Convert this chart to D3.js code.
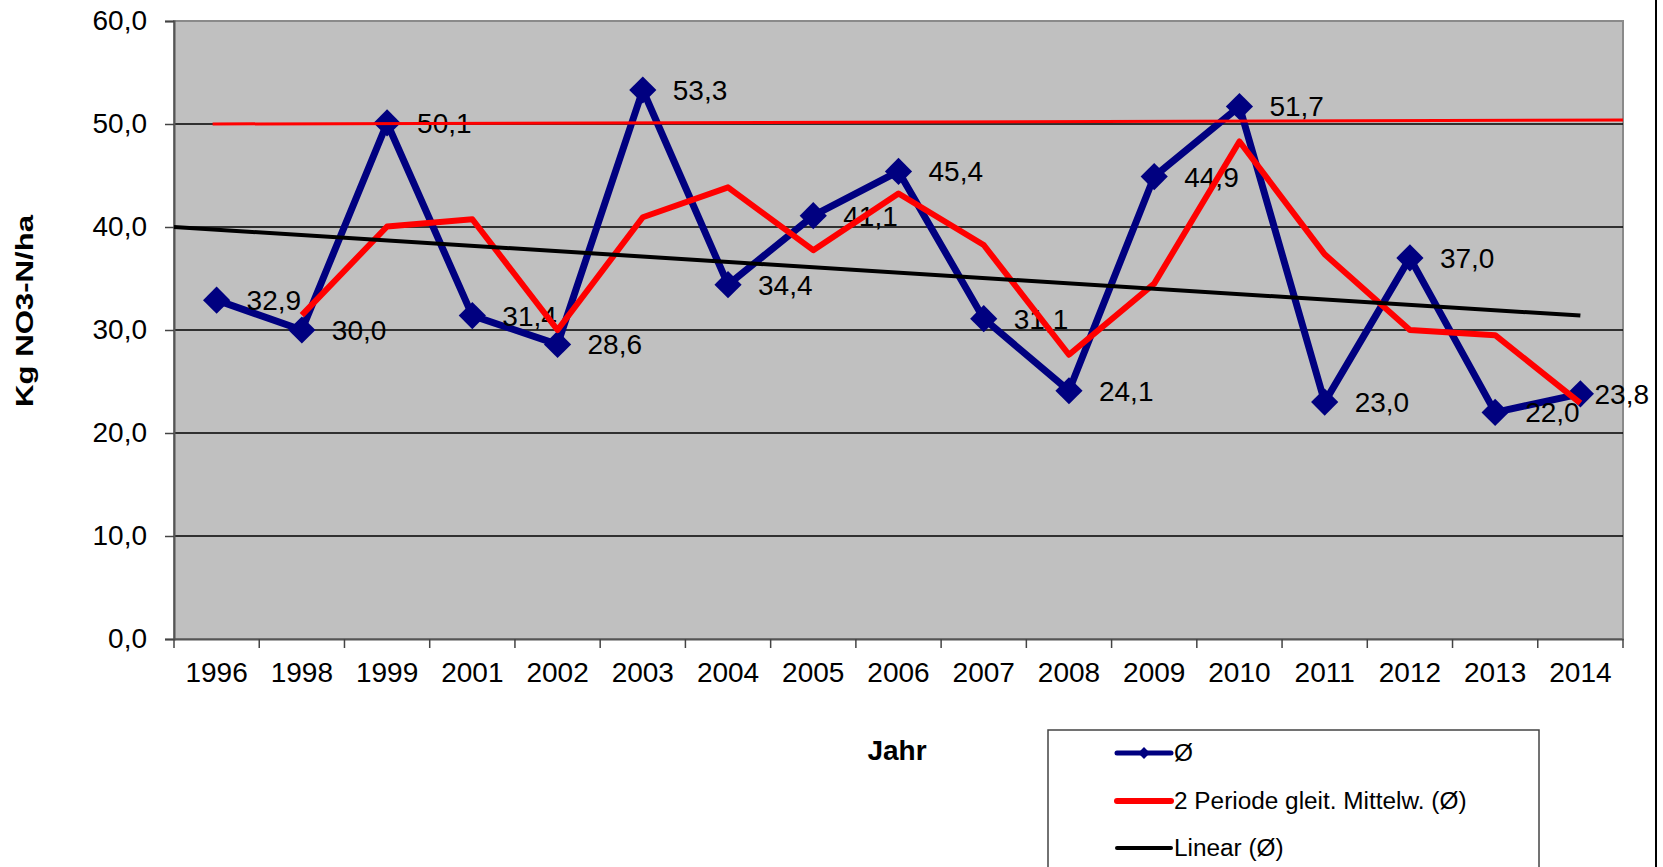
<!DOCTYPE html>
<html>
<head>
<meta charset="utf-8">
<script src="https://cdn.jsdelivr.net/npm/d3@7/dist/d3.min.js"></script>
<style>
  html, body { margin: 0; padding: 0; background: #fff; }
  svg { display: block; font-family: "Liberation Sans", Arial, sans-serif; }
</style>
</head>
<body>
<svg id="chart" width="1663" height="867"></svg>
<script>
// ---- data ----
const years = ["1996","1998","1999","2001","2002","2003","2004","2005","2006","2007","2008","2009","2010","2011","2012","2013","2014"];
const avgValues = [32.9,30.0,50.1,31.4,28.6,53.3,34.4,41.1,45.4,31.1,24.1,44.9,51.7,23.0,37.0,22.0,23.8];
const movingAvg = [null,31.45,40.05,40.75,30.0,40.95,43.85,37.75,43.25,38.25,27.6,34.5,48.3,37.35,30.0,29.5,22.9];
const trendValues = [40.0, 31.4];   // linear trend: plot left edge -> last year
const limitValues = [50.0, 50.4];   // red reference line: first year -> plot right edge
const yTicks = [0,10,20,30,40,50,60];
const legendLabels = ["Ø", "2 Periode gleit. Mittelw. (Ø)", "Linear (Ø)"];
const yTitle = "Kg NO3-N/ha";
const xTitle = "Jahr";

// ---- layout ----
const L = 174, R = 1623, T = 21, B = 639;
const svg = d3.select("#chart");
const fmt = v => v.toFixed(1).replace(".", ",");

const x = d3.scaleBand().domain(years).range([L, R]).paddingInner(0).paddingOuter(0);
const y = d3.scaleLinear().domain([0, 60]).range([B, T]);
const cx = d => x(d) + x.bandwidth() / 2;

// plot background
svg.append("rect").attr("x", L).attr("y", T).attr("width", R - L).attr("height", B - T)
  .attr("fill", "#c0c0c0").attr("stroke", "#8a8a8a").attr("stroke-width", 2);

// gridlines
svg.append("g").selectAll("line").data(yTicks.filter(v => v > 0 && v < 60)).join("line")
  .attr("x1", L).attr("x2", R).attr("y1", d => y(d)).attr("y2", d => y(d))
  .attr("stroke", "#000").attr("stroke-width", 1.3);

// y axis
const yAxis = svg.append("g").attr("transform", `translate(${L},0)`)
  .call(d3.axisLeft(y).tickValues(yTicks).tickFormat(fmt).tickSize(9).tickPadding(18));
yAxis.select(".domain").attr("stroke", "#555").attr("stroke-width", 2);
yAxis.selectAll(".tick line").attr("stroke", "#444").attr("stroke-width", 1.5);
yAxis.selectAll("text").attr("font-size", 28).attr("fill", "#000")
  .attr("font-family", "'Liberation Sans', Arial, sans-serif");

// x axis (labels at centers, ticks at boundaries)
const xAxis = svg.append("g").attr("transform", `translate(0,${B})`)
  .call(d3.axisBottom(x).tickSize(0).tickPadding(23));
xAxis.select(".domain").attr("stroke", "#555").attr("stroke-width", 2);
xAxis.selectAll("text").attr("font-size", 28).attr("fill", "#000")
  .attr("font-family", "'Liberation Sans', Arial, sans-serif");
const bounds = years.map(d => x(d)).concat([R]);
svg.append("g").selectAll("line").data(bounds).join("line")
  .attr("x1", d => d).attr("x2", d => d).attr("y1", B).attr("y2", B + 9)
  .attr("stroke", "#444").attr("stroke-width", 1.5);

// axis titles
svg.append("text").attr("x", 897).attr("y", 760).attr("text-anchor", "middle")
  .attr("font-size", 28).attr("font-weight", "bold").text(xTitle);
svg.append("text").attr("transform", "translate(33,311) rotate(-90)")
  .attr("text-anchor", "middle").attr("font-size", 24).attr("font-weight", "bold")
  .attr("textLength", 192).attr("lengthAdjust", "spacingAndGlyphs").text(yTitle);

// main series
const pts = years.map((d, i) => ({ year: d, v: avgValues[i] }));
svg.append("path").datum(pts)
  .attr("d", d3.line().x(d => cx(d.year)).y(d => y(d.v)))
  .attr("fill", "none").attr("stroke", "#000080").attr("stroke-width", 7)
  .attr("stroke-linejoin", "round");
const diamond = d3.symbol(d3.symbolSquare, 370);
svg.append("g").selectAll("path").data(pts).join("path")
  .attr("d", diamond)
  .attr("transform", d => `translate(${cx(d.year)},${y(d.v)}) rotate(45)`)
  .attr("fill", "#000080");

// data labels
const labels = svg.append("g").selectAll("text").data(pts).join("text")
  .attr("x", d => cx(d.year) + 30).attr("y", d => y(d.v) + 10)
  .attr("font-size", 28).attr("fill", "#000").text(d => fmt(d.v));
labels.each(function () {
  const w = this.getComputedTextLength();
  const x0 = +this.getAttribute("x");
  if (x0 + w > 1649) this.setAttribute("x", 1649 - w);
});

// moving average
const ma = years.map((d, i) => ({ year: d, v: movingAvg[i] })).filter(d => d.v !== null);
svg.append("path").datum(ma)
  .attr("d", d3.line().x(d => cx(d.year)).y(d => y(d.v)))
  .attr("fill", "none").attr("stroke", "#ff0000").attr("stroke-width", 6)
  .attr("stroke-linejoin", "round");

// linear trend
svg.append("line")
  .attr("x1", L).attr("y1", y(trendValues[0]))
  .attr("x2", cx(years[years.length - 1])).attr("y2", y(trendValues[1]))
  .attr("stroke", "#000").attr("stroke-width", 4);

// red reference line
svg.append("line")
  .attr("x1", cx(years[0]) - 4).attr("y1", y(limitValues[0]))
  .attr("x2", R).attr("y2", y(limitValues[1]))
  .attr("stroke", "#ff0000").attr("stroke-width", 3);

// chart frame (right edge)
svg.append("line").attr("x1", 1656).attr("x2", 1656).attr("y1", 0).attr("y2", 867)
  .attr("stroke", "#000").attr("stroke-width", 2);

// legend
const lg = svg.append("g");
lg.append("rect").attr("x", 1048).attr("y", 730).attr("width", 491).attr("height", 160)
  .attr("fill", "#fff").attr("stroke", "#444").attr("stroke-width", 1.5);
const rows = [
  { y: 753, color: "#000080", w: 5, marker: true },
  { y: 801, color: "#ff0000", w: 6, marker: false },
  { y: 848, color: "#000000", w: 4, marker: false }
];
rows.forEach((r, i) => {
  lg.append("line").attr("x1", 1117).attr("x2", 1171).attr("y1", r.y).attr("y2", r.y)
    .attr("stroke", r.color).attr("stroke-width", r.w).attr("stroke-linecap", "round");
  if (r.marker) {
    lg.append("path").attr("d", d3.symbol(d3.symbolSquare, 70))
      .attr("transform", `translate(1144,${r.y}) rotate(45)`).attr("fill", r.color);
  }
  lg.append("text").attr("transform", `translate(1174,${r.y + 8}) scale(1.06,1)`)
    .attr("font-size", 23).attr("fill", "#000").text(legendLabels[i]);
});
</script>
</body>
</html>
